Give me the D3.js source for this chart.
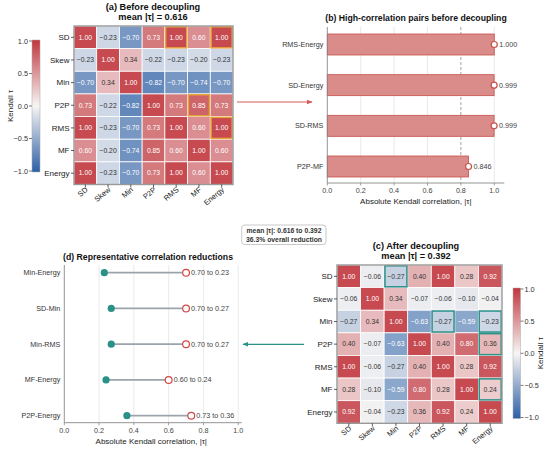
<!DOCTYPE html>
<html><head><meta charset="utf-8">
<script src="https://cdn.jsdelivr.net/npm/d3@7"></script>
<style>body{margin:0;background:#fff;} text{font-family:"Liberation Sans",Arial,sans-serif;}</style>
</head><body>
<svg id="c" width="550" height="449"></svg>
<script>
const features = ["SD","Skew","Min","P2P","RMS","MF","Energy"];
const before = [
 [1.00,-0.23,-0.70,0.73,1.00,0.60,1.00],
 [-0.23,1.00,0.34,-0.22,-0.23,-0.20,-0.23],
 [-0.70,0.34,1.00,-0.82,-0.70,-0.74,-0.70],
 [0.73,-0.22,-0.82,1.00,0.73,0.85,0.73],
 [1.00,-0.23,-0.70,0.73,1.00,0.60,1.00],
 [0.60,-0.20,-0.74,0.85,0.60,1.00,0.60],
 [1.00,-0.23,-0.70,0.73,1.00,0.60,1.00]];
const after = [
 [1.00,-0.06,-0.27,0.40,1.00,0.28,0.92],
 [-0.06,1.00,0.34,-0.07,-0.06,-0.10,-0.04],
 [-0.27,0.34,1.00,-0.63,-0.27,-0.59,-0.23],
 [0.40,-0.07,-0.63,1.00,0.40,0.80,0.36],
 [1.00,-0.06,-0.27,0.40,1.00,0.28,0.92],
 [0.28,-0.10,-0.59,0.80,0.28,1.00,0.24],
 [0.92,-0.04,-0.23,0.36,0.92,0.24,1.00]];
const highBefore = [["SD","RMS"],["SD","Energy"],["P2P","MF"],["RMS","Energy"]];
const highAfter = [["SD","Min"],["Min","RMS"],["Min","Energy"],["P2P","Energy"],["MF","Energy"]];
const barPairs = ["RMS-Energy","SD-Energy","SD-RMS","P2P-MF"];
const barValues = [1.000,0.999,0.999,0.846];
const redPairs = ["Min-Energy","SD-Min","Min-RMS","MF-Energy","P2P-Energy"];
const redBefore = [0.70,0.70,0.70,0.60,0.73];
const redAfter = [0.23,0.27,0.27,0.24,0.36];
const xTicks = [0,0.2,0.4,0.6,0.8,1.0];
const cbTicks = [1.0,0.5,0.0,-0.5,-1.0];

const svg = d3.select("#c");
const color = d3.scaleLinear().domain([-1, 0, 1]).range(["#2c5fa6", "#f7f5f4", "#c0363d"]).interpolate(d3.interpolateRgb);
const fmtMinus = s => s.replace("-", "\u2212");
const RED = "#d45a57", TEAL = "#2a9187", ORANGE = "#e8a33a";

const defs = svg.append("defs");
function marker(id, col){
  defs.append("marker").attr("id", id).attr("viewBox","0 0 10 10").attr("refX",9).attr("refY",5)
    .attr("markerWidth",5).attr("markerHeight",5).attr("orient","auto")
    .append("path").attr("d","M0,1 L10,5 L0,9 z").attr("fill", col);
}
marker("ar", RED); marker("at", TEAL);

function heatmap(mat, x0, x1, y0, y1, highlights, hcol, title1, title2, tcx){
  const g = svg.append("g");
  const xs = d3.scaleBand().domain(features).range([x0, x1]);
  const ys = d3.scaleBand().domain(features).range([y0, y1]);
  features.forEach((r, i) => features.forEach((c, j) => {
    const v = mat[i][j];
    g.append("rect").attr("x", xs(c)).attr("y", ys(r)).attr("width", xs.bandwidth()).attr("height", ys.bandwidth())
      .attr("fill", color(v)).attr("fill-opacity", 0.9).attr("stroke", "#fff").attr("stroke-width", 0.8);
    g.append("text").attr("x", xs(c) + xs.bandwidth()/2).attr("y", ys(r) + ys.bandwidth()/2 + 2.3)
      .attr("text-anchor","middle").attr("font-size", 6.8)
      .attr("fill", Math.abs(v) > 0.5 ? "#fff" : "#333").text(fmtMinus(v.toFixed(2)));
  }));
  highlights.forEach(([r, c]) => {
    g.append("rect").attr("x", xs(c) + 0.8).attr("y", ys(r) + 0.8).attr("width", xs.bandwidth() - 1.6)
      .attr("height", ys.bandwidth() - 1.6).attr("fill","none").attr("stroke", hcol).attr("stroke-width", 1.5);
  });
  g.append("rect").attr("x", x0).attr("y", y0).attr("width", x1 - x0).attr("height", y1 - y0)
    .attr("fill","none").attr("stroke","#999").attr("stroke-width",1.4);
  features.forEach(f => {
    const yy = ys(f) + ys.bandwidth()/2;
    g.append("line").attr("x1", x0 - 3).attr("x2", x0).attr("y1", yy).attr("y2", yy).attr("stroke","#333").attr("stroke-width",0.8);
    g.append("text").attr("x", x0 - 4.5).attr("y", yy + 2.8).attr("text-anchor","end").attr("font-size", 8).attr("fill","#222").text(f);
    const xx = xs(f) + xs.bandwidth()/2;
    g.append("line").attr("x1", xx).attr("x2", xx).attr("y1", y1).attr("y2", y1 + 3).attr("stroke","#333").attr("stroke-width",0.8);
    g.append("text").attr("transform", `translate(${xx + 3},${y1 + 6}) rotate(-40)`).attr("text-anchor","end")
      .attr("font-size", 7.5).attr("fill","#222").text(f);
  });
  g.append("text").attr("x", tcx).attr("y", y0 - 16.5).attr("text-anchor","middle").attr("font-size",9.2).attr("font-weight","bold").attr("fill","#111").text(title1);
  g.append("text").attr("x", tcx).attr("y", y0 - 6).attr("text-anchor","middle").attr("font-size",9.2).attr("font-weight","bold").attr("fill","#111").text(title2);
}

function colorbar(id, x, w, yTop, yBot, side, labelX){
  const grad = defs.append("linearGradient").attr("id", id).attr("x1",0).attr("x2",0).attr("y1",0).attr("y2",1);
  d3.range(0, 1.001, 0.05).forEach(t => grad.append("stop").attr("offset", t).attr("stop-color", color(1 - 2*t)));
  svg.append("rect").attr("x", x).attr("y", yTop).attr("width", w).attr("height", yBot - yTop).attr("fill", `url(#${id})`).attr("stroke","#aaa").attr("stroke-width",0.5);
  const s = d3.scaleLinear().domain([1, -1]).range([yTop + 1, yBot - 1]);
  cbTicks.forEach(t => {
    const yy = s(t);
    if (side === "left") {
      svg.append("line").attr("x1", x - 3).attr("x2", x).attr("y1", yy).attr("y2", yy).attr("stroke","#444").attr("stroke-width",0.7);
      svg.append("text").attr("x", x - 4).attr("y", yy + 2.6).attr("text-anchor","end").attr("font-size",7.3).attr("fill","#333").text(fmtMinus(t.toFixed(1)));
    } else {
      svg.append("line").attr("x1", x + w).attr("x2", x + w + 3).attr("y1", yy).attr("y2", yy).attr("stroke","#444").attr("stroke-width",0.7);
      svg.append("text").attr("x", x + w + 4).attr("y", yy + 2.6).attr("text-anchor","start").attr("font-size",7.3).attr("fill","#333").text(fmtMinus(t.toFixed(1)));
    }
  });
  svg.append("text").attr("transform", `translate(${labelX},${(yTop + yBot)/2}) rotate(-90)`).attr("text-anchor","middle")
    .attr("font-size",8).attr("fill","#222").text("Kendall \u03c4");
}

heatmap(before, 74, 233, 26, 184.5, highBefore, ORANGE, "(a) Before decoupling", "mean |\u03c4| = 0.616", 153);
colorbar("cb1", 32, 8, 40, 172, "left", 13);
heatmap(after, 337, 502, 265, 423.3, highAfter, TEAL, "(c) After decoupling", "mean |\u03c4| = 0.392", 416);
colorbar("cb2", 513, 7.5, 288, 418.5, "right", 543);

// (b) bar chart
{
  const x = d3.scaleLinear().domain([0, 1.06]).range([327.3, 504.3]);
  const y = d3.scalePoint().domain(barPairs).range([44.5, 166.5]);
  const top = 27, bot = 183, bh = 21;
  const g = svg.append("g");
  [0.2,0.4,0.6,1.0].forEach(t => g.append("line").attr("x1", x(t)).attr("x2", x(t)).attr("y1", top).attr("y2", bot).attr("stroke","#e4e4e4").attr("stroke-width",0.8));
  g.append("line").attr("x1", x(0.8)).attr("x2", x(0.8)).attr("y1", top).attr("y2", bot).attr("stroke","#999").attr("stroke-width",0.9).attr("stroke-dasharray","3,2");
  barPairs.forEach((p, i) => {
    const v = barValues[i];
    g.append("rect").attr("x", x(0)).attr("y", y(p) - bh/2).attr("width", x(v) - x(0)).attr("height", bh)
      .attr("fill", "#d98c89").attr("stroke", "#c9504c").attr("stroke-width", 0.8);
    g.append("circle").attr("cx", x(v)).attr("cy", y(p)).attr("r", 3).attr("fill","#fff").attr("stroke", "#c9504c").attr("stroke-width",1.2);
    g.append("text").attr("x", x(v) + 5).attr("y", y(p) + 2.5).attr("font-size",7.2).attr("fill","#444").text(v.toFixed(3));
    g.append("text").attr("x", x(0) - 4).attr("y", y(p) + 2.5).attr("text-anchor","end").attr("font-size",7.2).attr("fill","#333").text(p);
  });
  g.append("line").attr("x1", x(0)).attr("x2", x(0)).attr("y1", top).attr("y2", bot).attr("stroke","#888").attr("stroke-width",0.9);
  g.append("line").attr("x1", x(0)).attr("x2", x(1.06)).attr("y1", bot).attr("y2", bot).attr("stroke","#888").attr("stroke-width",0.9);
  xTicks.forEach(t => {
    g.append("line").attr("x1", x(t)).attr("x2", x(t)).attr("y1", bot).attr("y2", bot + 2.5).attr("stroke","#888").attr("stroke-width",0.8);
    g.append("text").attr("x", x(t)).attr("y", bot + 10).attr("text-anchor","middle").attr("font-size",7.2).attr("fill","#444").text(t.toFixed(1));
  });
  g.append("text").attr("x", x(0.53)).attr("y", bot + 21).attr("text-anchor","middle").attr("font-size",8).attr("fill","#222").text("Absolute Kendall correlation, |\u03c4|");
  g.append("text").attr("x", 416).attr("y", 21).attr("text-anchor","middle").attr("font-size",8.7).attr("font-weight","bold").attr("fill","#111").text("(b) High-correlation pairs before decoupling");
}

// (d) dumbbell
{
  const x = d3.scaleLinear().domain([0, 1.02]).range([64.3, 241.7]);
  const y = d3.scalePoint().domain(redPairs).range([272.7, 415.7]);
  const top = 265, bot = 422.7;
  const g = svg.append("g");
  [0.2,0.4,0.6,0.8,1.0].forEach(t => g.append("line").attr("x1", x(t)).attr("x2", x(t)).attr("y1", top).attr("y2", bot).attr("stroke","#e4e4e4").attr("stroke-width",0.8));
  redPairs.forEach((p, i) => {
    const b = redBefore[i], a = redAfter[i];
    g.append("line").attr("x1", x(a)).attr("x2", x(b)).attr("y1", y(p)).attr("y2", y(p)).attr("stroke","#9aa4aa").attr("stroke-width",1.8);
    g.append("circle").attr("cx", x(a)).attr("cy", y(p)).attr("r", 3.6).attr("fill", TEAL);
    g.append("circle").attr("cx", x(b)).attr("cy", y(p)).attr("r", 3.4).attr("fill","#fff").attr("stroke", "#d2484a").attr("stroke-width",1.2);
    g.append("text").attr("x", x(b) + 5).attr("y", y(p) + 2.5).attr("font-size",7.2).attr("fill","#444").text(`${b.toFixed(2)} to ${a.toFixed(2)}`);
    g.append("text").attr("x", x(0) - 4).attr("y", y(p) + 2.5).attr("text-anchor","end").attr("font-size",7.2).attr("fill","#333").text(p);
  });
  g.append("line").attr("x1", x(0)).attr("x2", x(0)).attr("y1", top).attr("y2", bot).attr("stroke","#888").attr("stroke-width",0.9);
  g.append("line").attr("x1", x(0)).attr("x2", x(1.02)).attr("y1", bot).attr("y2", bot).attr("stroke","#888").attr("stroke-width",0.9);
  xTicks.forEach(t => {
    g.append("line").attr("x1", x(t)).attr("x2", x(t)).attr("y1", bot).attr("y2", bot + 2.5).attr("stroke","#888").attr("stroke-width",0.8);
    g.append("text").attr("x", x(t)).attr("y", bot + 10).attr("text-anchor","middle").attr("font-size",7.2).attr("fill","#444").text(t.toFixed(1));
  });
  g.append("text").attr("x", x(0.5)).attr("y", bot + 21).attr("text-anchor","middle").attr("font-size",8).attr("fill","#222").text("Absolute Kendall correlation, |\u03c4|");
  g.append("text").attr("x", 148).attr("y", 260).attr("text-anchor","middle").attr("font-size",8.7).attr("font-weight","bold").attr("fill","#111").text("(d) Representative correlation reductions");
}

// arrows
svg.append("line").attr("x1", 237).attr("x2", 312).attr("y1", 102).attr("y2", 102).attr("stroke", RED).attr("stroke-width",1.2).attr("marker-end","url(#ar)");
svg.append("line").attr("x1", 304).attr("x2", 243).attr("y1", 344.3).attr("y2", 344.3).attr("stroke", TEAL).attr("stroke-width",1.2).attr("marker-end","url(#at)");

// annotation box
svg.append("rect").attr("x", 241.7).attr("y", 225).attr("width", 84.3).attr("height", 19.5).attr("rx", 3)
  .attr("fill","#fff").attr("stroke","#bbb").attr("stroke-width",0.8);
svg.append("text").attr("x", 284).attr("y", 233).attr("text-anchor","middle").attr("font-size",6.8).attr("font-weight","bold").attr("fill","#333").text("mean |\u03c4|: 0.616 to 0.392");
svg.append("text").attr("x", 284).attr("y", 241.5).attr("text-anchor","middle").attr("font-size",6.8).attr("font-weight","bold").attr("fill","#333").text("36.3% overall reduction");
</script>
</body></html>
